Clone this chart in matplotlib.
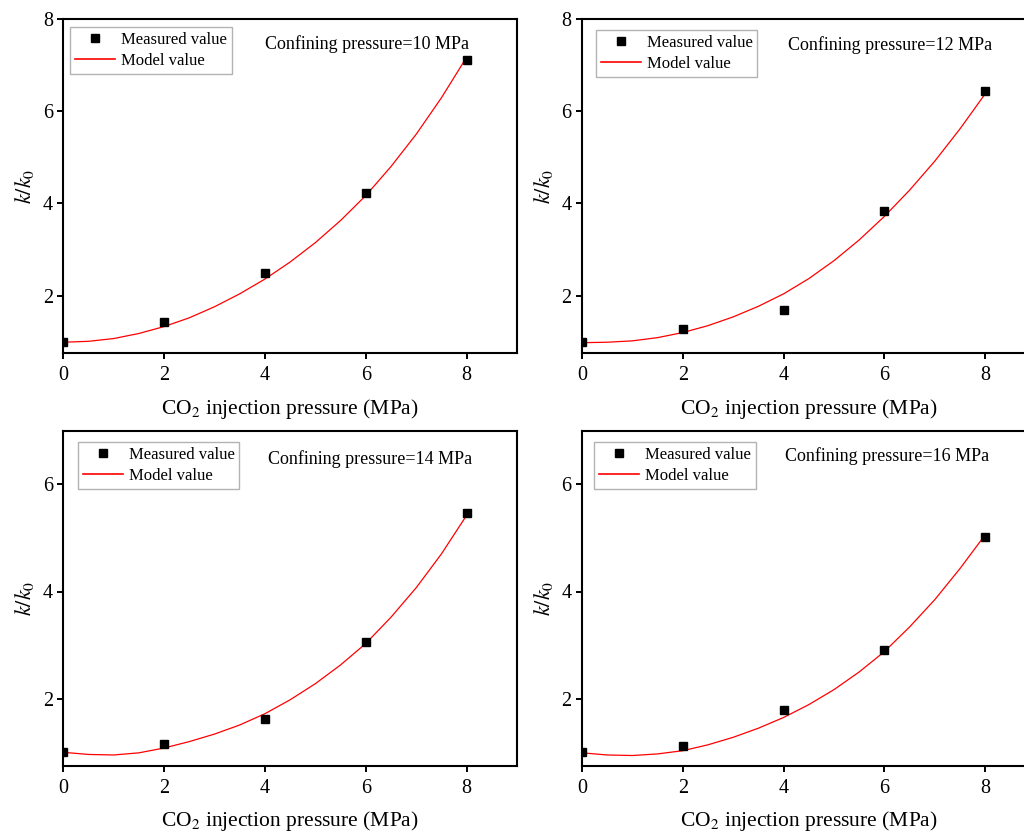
import matplotlib
matplotlib.use("Agg")
import matplotlib.pyplot as plt
from matplotlib.lines import Line2D

plt.rcParams['font.family'] = ['Liberation Serif', 'DejaVu Serif']
plt.rcParams['mathtext.fontset'] = 'stix'

# ---------------- data ----------------
x_meas = [0, 2, 4, 6, 8]
meas_10 = [1.00, 1.42, 2.50, 4.23, 7.10]
meas_12 = [1.00, 1.28, 1.68, 3.83, 6.44]
meas_14 = [1.01, 1.15, 1.63, 3.06, 5.47]
meas_16 = [1.01, 1.11, 1.79, 2.90, 5.02]

x_model = [0, 0.5, 1, 1.5, 2, 2.5, 3, 3.5, 4, 4.5, 5, 5.5, 6, 6.5, 7, 7.5, 8]
model_10 = [0.99, 1.01, 1.07, 1.18, 1.33, 1.52, 1.76, 2.04, 2.36, 2.73, 3.15, 3.63, 4.17, 4.80, 5.50, 6.29, 7.17]
model_12 = [0.98, 0.99, 1.02, 1.09, 1.20, 1.35, 1.54, 1.77, 2.04, 2.37, 2.76, 3.21, 3.72, 4.29, 4.92, 5.62, 6.38]
model_14 = [1.00, 0.96, 0.95, 0.99, 1.08, 1.20, 1.34, 1.51, 1.72, 1.98, 2.28, 2.63, 3.03, 3.52, 4.07, 4.70, 5.42]
model_16 = [0.99, 0.95, 0.94, 0.97, 1.03, 1.14, 1.28, 1.45, 1.65, 1.89, 2.17, 2.50, 2.88, 3.34, 3.85, 4.43, 5.06]

confining = ["10", "12", "14", "16"]
x_ticks = [0, 2, 4, 6, 8]
y_ticks_top = [2, 4, 6, 8]
y_ticks_bottom = [2, 4, 6]

W, H = 1024, 834
fig = plt.figure(figsize=(W / 100, H / 100), dpi=100)


def fx(px):
    return px / W


def fy(py):
    return 1 - py / H


panels = [
    # left px, top px, right px, bottom px, ylim top, yticks, meas, model, conf, legend (x,y), text(x,y)
    (63.3, 19.0, 517.0, 353.3, 8, y_ticks_top, meas_10, model_10, confining[0], (70, 26.7), (4.0, 7.46)),
    (582.0, 19.0, 1035.7, 353.3, 8, y_ticks_top, meas_12, model_12, confining[1], (595.7, 29.7), (4.08, 7.43)),
    (63.3, 430.7, 517.0, 765.7, 7, y_ticks_bottom, meas_14, model_14, confining[2], (77.7, 441.7), (4.06, 6.47)),
    (582.0, 430.7, 1035.7, 765.7, 7, y_ticks_bottom, meas_16, model_16, confining[3], (594.3, 441.7), (4.02, 6.52)),
]

for (l, t, r, b, ytop, yt, meas, model, conf, leg_xy, txt_xy) in panels:
    ax = fig.add_axes([fx(l), fy(b), (r - l) / W, (b - t) / H])
    ax.plot(x_model, model, color='#ff0000', lw=0.9, label='Model value', zorder=2)
    ax.plot(x_meas, meas, 's', color='black', ms=6.4, mec='black', label='Measured value', zorder=3)
    ax.set_xlim(0, 9)
    ax.set_ylim(0.75, ytop)
    ax.set_xticks(x_ticks)
    ax.set_yticks(yt)
    for s in ax.spines.values():
        s.set_linewidth(1.5)
    ax.tick_params(axis='both', which='major', direction='out', length=4.5, width=1.4,
                   labelsize=14.5, pad=3)
    ax.tick_params(axis='x', pad=5)
    ax.tick_params(top=False, right=False)
    ax.set_xlabel('CO$_2$ injection pressure (MPa)', fontsize=15.5, labelpad=8)
    ax.set_ylabel(r'$k/k_0$', fontsize=16, labelpad=5)
    ax.text(txt_xy[0], txt_xy[1], 'Confining pressure=' + conf + ' MPa', fontsize=13,
            ha='left', va='center')
    handles = [Line2D([], [], marker='s', ls='none', color='black', ms=5.8),
               Line2D([], [], color='#ff0000', lw=1.2)]
    leg = ax.legend(handles, ['Measured value', 'Model value'], loc='upper left',
                    bbox_to_anchor=(fx(leg_xy[0]), fy(leg_xy[1])),
                    bbox_transform=fig.transFigure, borderaxespad=0, fontsize=12,
                    frameon=True, fancybox=False, edgecolor='#a0a0a0', borderpad=0.3,
                    handlelength=2.4, handletextpad=0.35, labelspacing=0.3, numpoints=1)
    leg.get_frame().set_linewidth(1.0)

fig.savefig('out.png', dpi=100)
